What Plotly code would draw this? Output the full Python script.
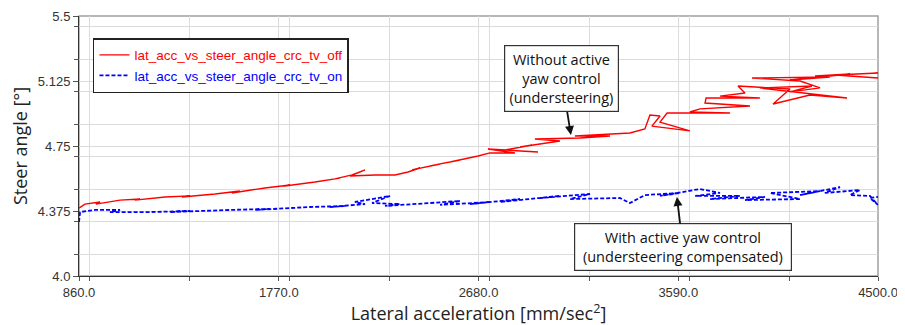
import plotly.graph_objects as go

# Red: without active yaw control (lateral acc [mm/sec^2], steer angle [deg])
off_x = [860, 887, 956, 937, 1047, 1138, 1115, 1252, 1366, 1329, 1480, 1593, 1557, 1707, 1821,
         1798, 1935, 2049, 2026, 2104, 2163, 2095, 2209, 2300, 2359, 2413, 2377, 2505, 2459,
         2596, 2550, 2678, 2732, 2846, 2723, 2951, 2801, 2924, 2869, 3051, 2937, 3142, 3279,
         3119, 3370, 3438, 3461, 3507, 3470, 3643, 3507, 3539, 3826, 3643, 3689, 3917, 3712,
         3717, 3962, 3780, 3894, 3862, 4099, 4022, 4190, 4359, 4145, 3962, 4199, 4099, 4236,
         4145, 3926, 4281, 4099, 4372, 4213, 4500, 4304, 4500]
off_y = [4.392, 4.415, 4.427, 4.415, 4.438, 4.444, 4.438, 4.456, 4.462, 4.456, 4.473, 4.490,
         4.479, 4.508, 4.525, 4.519, 4.542, 4.565, 4.560, 4.583, 4.612, 4.577, 4.583, 4.583,
         4.600, 4.623, 4.612, 4.646, 4.635, 4.669, 4.658, 4.692, 4.710, 4.710, 4.733, 4.715,
         4.727, 4.756, 4.744, 4.779, 4.790, 4.796, 4.808, 4.808, 4.825, 4.848, 4.929, 4.923,
         4.865, 4.837, 4.888, 4.940, 4.940, 4.946, 4.964, 4.981, 4.998, 5.027, 5.027, 5.038,
         5.056, 5.096, 5.079, 4.992, 5.044, 5.027, 5.056, 5.085, 5.096, 5.062, 5.085, 5.125,
         5.142, 5.148, 5.131, 5.165, 5.154, 5.171, 5.160, 5.142]

# Blue: with active yaw control
on_x = [860, 865, 933, 1047, 1001, 1183, 1366, 1274, 1548, 1730, 1662, 1912, 2072, 2003, 2163,
        2117, 2277, 2195, 2322, 2254, 2459, 2596, 2505, 2732, 2641, 2869, 2778, 3051, 2960,
        3188, 3097, 3324, 3370, 3438, 3598, 3507, 3689, 3780, 3667, 3871, 3735, 3985, 3894,
        4145, 4008, 4236, 4145, 4327, 4258, 4418, 4372, 4463, 4500, 4463, 4500]
on_y = [4.312, 4.369, 4.381, 4.381, 4.369, 4.369, 4.375, 4.369, 4.381, 4.387, 4.381, 4.398,
        4.404, 4.398, 4.415, 4.427, 4.462, 4.421, 4.415, 4.404, 4.421, 4.433, 4.410, 4.427,
        4.415, 4.444, 4.427, 4.462, 4.450, 4.473, 4.444, 4.450, 4.421, 4.467, 4.479, 4.462,
        4.502, 4.479, 4.462, 4.462, 4.444, 4.456, 4.438, 4.444, 4.479, 4.490, 4.467, 4.513,
        4.479, 4.496, 4.467, 4.462, 4.410, 4.450, 4.456]

x_ticks = [860, 1770, 2680, 3590, 4500]
x_labels = ["860.0", "1770.0", "2680.0", "3590.0", "4500.0"]
y_ticks = [4.0, 4.375, 4.75, 5.125, 5.5]
y_labels = ["4.0", "4.375", "4.75", "5.125", "5.5"]

fig = go.Figure()
fig.add_trace(go.Scatter(x=off_x, y=off_y, mode="lines",
                         name="<span style='color:#ff0000'>lat_acc_vs_steer_angle_crc_tv_off</span>",
                         line=dict(color="#ff0000", width=1.4)))
fig.add_trace(go.Scatter(x=on_x, y=on_y, mode="lines",
                         name="<span style='color:#0000ff'>lat_acc_vs_steer_angle_crc_tv_on</span>",
                         line=dict(color="#0000ff", width=1.8, dash="4px,2px")))

grid = "#dcdcdc"
tickfont = dict(family="Liberation Sans, Arial", size=13, color="#333")
titlefont = dict(family="Open Sans", size=18, color="#222")
fig.update_xaxes(range=[860, 4500], tickvals=x_ticks, ticktext=x_labels, automargin=False,
                 showgrid=True, gridcolor=grid, gridwidth=1,
                 minor=dict(dtick=455, showgrid=True, gridcolor=grid, ticks="outside",
                            ticklen=4, tickcolor="#555"),
                 ticks="outside", ticklen=4, tickcolor="#555",
                 showline=True, linecolor="#333", linewidth=1, zeroline=False,
                 tickfont=tickfont,
                 title=dict(text="Lateral acceleration [mm/sec<sup>2</sup>]",
                            font=titlefont, standoff=4))
fig.update_yaxes(range=[4.0, 5.5], tickvals=y_ticks, ticktext=y_labels, automargin=False,
                 showgrid=True, gridcolor=grid, gridwidth=1,
                 minor=dict(dtick=0.1875, showgrid=True, gridcolor=grid, ticks="outside",
                            ticklen=4, tickcolor="#555"),
                 ticks="outside", ticklen=5, tickcolor="#555",
                 showline=True, linecolor="#333", linewidth=1, zeroline=False,
                 tickfont=tickfont,
                 title=dict(text="Steer angle [°]", font=titlefont, standoff=6))

fig.add_shape(type="rect", xref="paper", yref="paper", x0=0, y0=0, x1=1, y1=1,
              line=dict(color="#a0a0a0", width=1.5), layer="below")

ann_font = dict(family="Open Sans", size=14.5, color="#111")
fig.add_annotation(x=3101, y=4.8135, text="&nbsp;Without active&nbsp;<br>yaw control<br>(understeering)",
                   showarrow=True, ax=-9, ay=-56, arrowhead=2, arrowsize=1, arrowwidth=1.8,
                   arrowcolor="#111",
                   font=ann_font, bordercolor="#333", borderwidth=1.2, borderpad=4,
                   bgcolor="white", align="center")
fig.add_annotation(x=3584, y=4.456,
                   text="&nbsp;With active yaw control&nbsp;<br>&nbsp;(understeering compensated)&nbsp;",
                   showarrow=True, ax=6, ay=50, arrowhead=2, arrowsize=1, arrowwidth=1.8,
                   arrowcolor="#111",
                   font=ann_font, bordercolor="#333", borderwidth=1.2, borderpad=4,
                   bgcolor="white", align="center")

# The page body adds an 8 px offset, so margins are trimmed accordingly.
fig.update_layout(width=905, height=325, margin=dict(l=71, r=35, t=8, b=57),
                  plot_bgcolor="white", paper_bgcolor="white",
                  legend=dict(x=0.0175, y=0.915, xanchor="left", yanchor="top",
                              bgcolor="white", bordercolor="#222", borderwidth=1.5,
                              font=dict(family="Liberation Sans, Arial", size=13.5),
                              itemwidth=30, tracegroupgap=0),
                  showlegend=True)

fig.write_html("out.html")
